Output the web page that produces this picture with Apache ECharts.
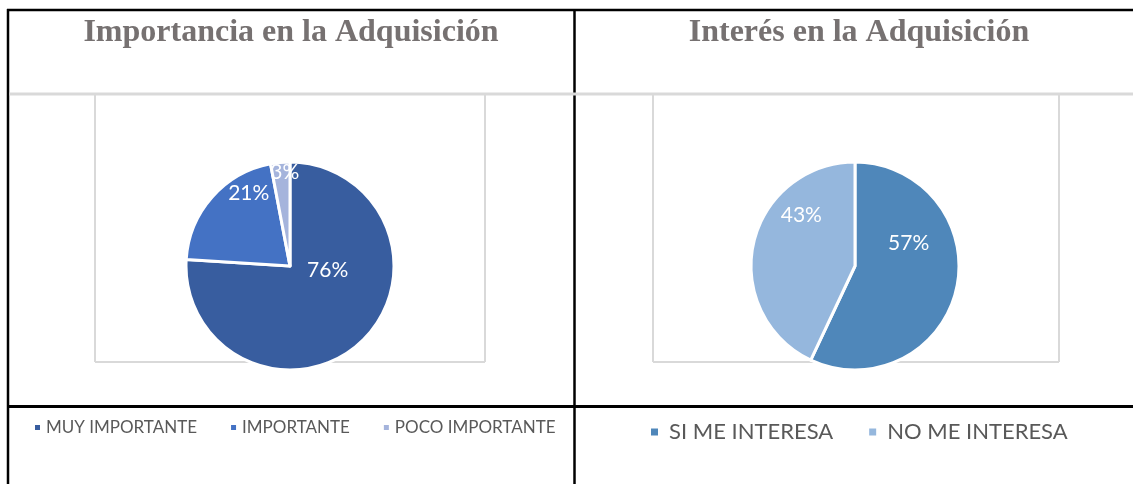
<!DOCTYPE html>
<html lang="es">
<head>
    <meta charset="UTF-8">
    <title>Importancia e Interés en la Adquisición</title>
    <script src="https://cdn.jsdelivr.net/npm/echarts@6/dist/echarts.min.js"></script>
    <style>
        html, body { margin: 0; padding: 0; background: #fff; }
        #main { width: 1133px; height: 484px; }
    </style>
</head>
<body>
<div id="main"></div>
<script type="text/javascript">
    // datos del primer gráfico
    var importanciaNames = ['MUY IMPORTANTE', 'IMPORTANTE', 'POCO IMPORTANTE'];
    var importanciaValues = [76, 21, 3];
    var importanciaColors = ['#385d9f', '#4472c4', '#a5b4dc'];

    // datos del segundo gráfico
    var interesNames = ['SI ME INTERESA', 'NO ME INTERESA'];
    var interesValues = [57, 43];
    var interesColors = ['#4f87ba', '#95b7dd'];

    // desplazamiento de las etiquetas (como las coloca Excel)
    var importanciaLift = [36, 36, 39];
    var interesLift = [35, 39];

    function buildData(names, values) {
        return names.map(function (n, i) {
            return { name: n, value: values[i] };
        });
    }

    function line(x1, y1, x2, y2, color, w) {
        return {
            type: 'line', z: 0, silent: true,
            shape: { x1: x1, y1: y1, x2: x2, y2: y2 },
            style: { stroke: color, lineWidth: w }
        };
    }

    var black = '#000', grey = '#d9d9d9';

    var myChart = echarts.init(document.getElementById('main'));
    var option = {
        animation: false,
        backgroundColor: '#fff',
        title: [
            {
                text: 'Importancia en la Adquisición',
                left: 291, top: 17, textAlign: 'center', padding: 0,
                textStyle: { fontFamily: 'Liberation Serif', fontWeight: 'bold', fontSize: 32, color: '#767171' }
            },
            {
                text: 'Interés en la Adquisición',
                left: 859, top: 17, textAlign: 'center', padding: 0,
                textStyle: { fontFamily: 'Liberation Serif', fontWeight: 'bold', fontSize: 32, color: '#767171' }
            }
        ],
        legend: [
            {
                data: importanciaNames,
                left: 33, top: 419, padding: 0,
                icon: 'rect', itemWidth: 7, itemHeight: 7, itemGap: 32,
                textStyle: { fontFamily: 'Lato', fontSize: 17, color: '#595959' }
            },
            {
                data: interesNames,
                left: 649, top: 421, padding: 0,
                icon: 'rect', itemWidth: 9, itemHeight: 9, itemGap: 34,
                textStyle: { fontFamily: 'Lato', fontSize: 22, color: '#595959', padding: [0, 0, 0, 5] }
            }
        ],
        graphic: [
            // bordes de la tabla
            line(7, 10, 1133, 10, black, 2.5),
            line(8, 9, 8, 484, black, 2.5),
            line(574.5, 9, 574.5, 484, black, 2.5),
            line(7, 406.5, 1133, 406.5, black, 3),
            line(9.5, 94, 1133, 94, grey, 3),
            // área de trazado
            line(95, 94, 95, 362, grey, 2),
            line(485, 94, 485, 362, grey, 2),
            line(95, 362, 485, 362, grey, 2),
            line(653, 94, 653, 362, grey, 2),
            line(1059, 94, 1059, 362, grey, 2),
            line(653, 362, 1059, 362, grey, 2)
        ],
        series: [
            {
                name: 'Importancia',
                type: 'pie',
                center: [290, 266],
                radius: 104,
                startAngle: 90,
                color: importanciaColors,
                itemStyle: { borderColor: '#fff', borderWidth: 3 },
                label: {
                    position: 'inside',
                    formatter: '{c}%',
                    color: '#fff',
                    fontFamily: 'Lato',
                    fontSize: 21
                },
                labelLine: { show: false },
                labelLayout: function (p) {
                    return { dy: -importanciaLift[p.dataIndex] };
                },
                data: buildData(importanciaNames, importanciaValues)
            },
            {
                name: 'Interés',
                type: 'pie',
                center: [855, 266],
                radius: 104,
                startAngle: 90,
                color: interesColors,
                itemStyle: { borderColor: '#fff', borderWidth: 3 },
                label: {
                    position: 'inside',
                    formatter: '{c}%',
                    color: '#fff',
                    fontFamily: 'Lato',
                    fontSize: 21
                },
                labelLine: { show: false },
                labelLayout: function (p) {
                    return { dy: -interesLift[p.dataIndex] };
                },
                data: buildData(interesNames, interesValues)
            }
        ]
    };
    myChart.setOption(option);
</script>
</body>
</html>
